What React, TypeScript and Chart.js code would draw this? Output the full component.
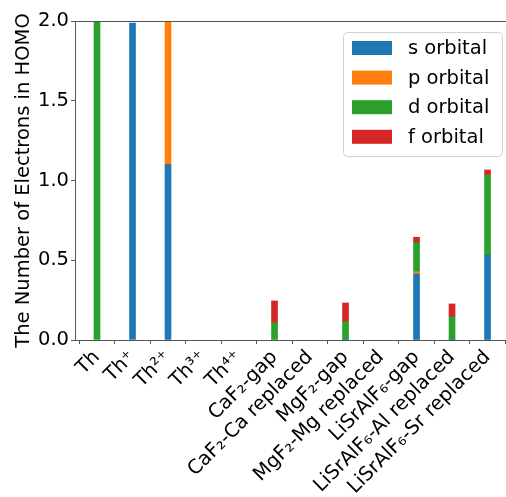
import React, { useEffect, useRef } from 'react';
import { Chart, registerables } from 'chart.js';

Chart.register(...registerables);

const categories = [
  'Th',
  'Th⁺',
  'Th²⁺',
  'Th³⁺',
  'Th⁴⁺',
  'CaF₂-gap',
  'CaF₂-Ca replaced',
  'MgF₂-gap',
  'MgF₂-Mg replaced',
  'LiSrAlF₆-gap',
  'LiSrAlF₆-Al replaced',
  'LiSrAlF₆-Sr replaced',
];

const sOrbital = [0, 1.987, 1.1, 0, 0, 0, 0, 0.005, 0, 0.414, 0.005, 0.531];
const pOrbital = [0, 0, 0.9, 0, 0, 0, 0, 0, 0, 0.014, 0, 0];
const dOrbital = [2.0, 0, 0, 0, 0, 0.108, 0, 0.11, 0, 0.182, 0.141, 0.503];
const fOrbital = [0, 0, 0, 0, 0, 0.137, 0, 0.117, 0, 0.034, 0.08, 0.032];

const seriesLabels = ['s orbital', 'p orbital', 'd orbital', 'f orbital'];
const seriesColors = ['#1f77b4', '#ff7f0e', '#2ca02c', '#d62728'];

const yTickStep = 0.5;
const yMin = 0;
const yMax = 2.0;

const FONT = 'DejaVu Sans';
const FS = 19.5;

export default function App() {
  const ref = useRef<HTMLCanvasElement>(null);

  useEffect(() => {
    document.body.style.margin = '0';
    const canvas = ref.current;
    if (!canvas) return;

    const toXY = (arr: number[]) => arr.map((v, i) => ({ x: i, y: v === 0 ? null : v }));
    const allSeries = [sOrbital, pOrbital, dOrbital, fOrbital];

    const spinePlugin = {
      id: 'topSpine',
      afterDatasetsDraw(chart: any) {
        const { ctx, chartArea } = chart;
        ctx.save();
        ctx.strokeStyle = '#555';
        ctx.lineWidth = 1;
        ctx.beginPath();
        ctx.moveTo(chartArea.left, chartArea.top + 0.5);
        ctx.lineTo(chartArea.right, chartArea.top + 0.5);
        ctx.stroke();
        ctx.restore();
      },
    };

    const legendPlugin = {
      id: 'boxLegend',
      afterDraw(chart: any) {
        const { ctx, chartArea } = chart;
        const right = chartArea.right - 4;
        const left = right - 159;
        const top = chartArea.top + 11;
        const h = 124;
        ctx.save();
        ctx.fillStyle = 'rgba(255,255,255,0.8)';
        ctx.strokeStyle = '#d0d0d0';
        ctx.lineWidth = 1;
        ctx.beginPath();
        (ctx as any).roundRect(left + 0.5, top + 0.5, right - left, h, 4);
        ctx.fill();
        ctx.stroke();
        ctx.font = `${FS}px "${FONT}"`;
        ctx.textBaseline = 'middle';
        ctx.textAlign = 'left';
        seriesLabels.forEach((lab, i) => {
          const cy = top + 16 + i * 29.6;
          ctx.fillStyle = seriesColors[i];
          ctx.fillRect(left + 9, cy - 7, 40, 14);
          ctx.fillStyle = '#000';
          ctx.fillText(lab, left + 65, cy + 1);
        });
        ctx.restore();
      },
    };

    const chart = new Chart(canvas, {
      type: 'bar',
      data: {
        datasets: allSeries.map((arr, i) => ({
          label: seriesLabels[i],
          data: toXY(arr),
          backgroundColor: seriesColors[i],
          borderWidth: 0,
          barThickness: 6,
        })),
      },
      options: {
        responsive: false,
        animation: false,
        layout: { padding: { top: 21, right: 0, left: 0, bottom: 0 } },
        plugins: { legend: { display: false }, tooltip: { enabled: false } },
        scales: {
          x: {
            type: 'linear',
            stacked: true,
            min: -0.62,
            max: 11.52,
            offset: false,
            grid: { drawOnChartArea: false, drawTicks: true, tickLength: 4, color: '#555' },
            border: { display: true, color: '#555', width: 1 },
            ticks: {
              autoSkip: false,
              minRotation: 45,
              maxRotation: 45,
              padding: 2,
              color: '#000',
              font: { family: FONT, size: FS },
              callback: (v: any) => categories[Math.round(Number(v))] ?? '',
            },
            afterBuildTicks: (s: any) => {
              s.ticks = categories.map((_, i) => ({ value: i }));
            },
            afterFit: (s: any) => {
              s.height = 157;
              s.paddingLeft = 0;
              s.paddingRight = 0;
            },
          } as any,
          y: {
            type: 'linear',
            stacked: true,
            min: yMin,
            max: yMax,
            grid: { drawOnChartArea: false, drawTicks: true, tickLength: 4, color: '#555' },
            border: { display: true, color: '#555', width: 1 },
            ticks: {
              stepSize: yTickStep,
              padding: 2,
              color: '#000',
              font: { family: FONT, size: FS },
              callback: (v: any) => Number(v).toFixed(1),
            },
            title: {
              display: true,
              text: 'The Number of Electrons in HOMO',
              color: '#000',
              font: { family: FONT, size: FS },
              padding: { top: 12, bottom: 0 },
            },
            afterFit: (s: any) => {
              s.width = 75;
              s.paddingTop = 0;
              s.paddingBottom = 0;
            },
          } as any,
        },
      },
      plugins: [spinePlugin, legendPlugin],
    });

    return () => chart.destroy();
  }, []);

  return <canvas ref={ref} width={506} height={497} style={{ display: 'block' }} />;
}
